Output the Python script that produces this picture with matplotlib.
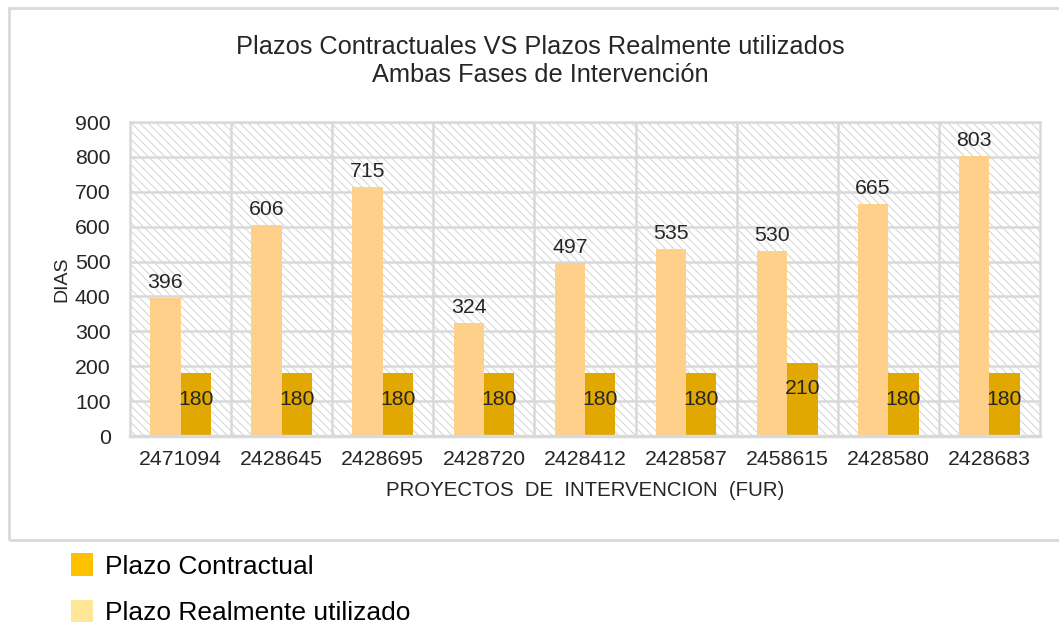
import matplotlib.pyplot as plt
from matplotlib.patches import Rectangle, Patch

plt.rcParams['font.family'] = ['Liberation Sans', 'DejaVu Sans']
plt.rcParams['hatch.linewidth'] = 0.7

# Datos
proyectos = ['2471094', '2428645', '2428695', '2428720', '2428412',
             '2428587', '2458615', '2428580', '2428683']
plazo_real = [396, 606, 715, 324, 497, 535, 530, 665, 803]
plazo_contractual = [180, 180, 180, 180, 180, 180, 210, 180, 180]
yticks = [0, 100, 200, 300, 400, 500, 600, 700, 800, 900]

COLOR_REAL = '#FFD08A'
COLOR_CONTR = '#E0A800'
GRID = '#D9D9D9'
TXT = '#262626'

fig = plt.figure(figsize=(10.59, 6.28), dpi=100)
ax = fig.add_axes([0.1228, 0.3057, 0.8592, 0.5])

# marco exterior
fig.patches.append(Rectangle((9 / 1059, 1 - 540 / 628), 1.1, (540 - 8) / 628,
                             transform=fig.transFigure, fill=False,
                             edgecolor=GRID, linewidth=2, zorder=0))

# fondo rayado
ax.add_patch(Rectangle((0, 0), 1, 1, transform=ax.transAxes, facecolor='white',
                       edgecolor='#D3D3D3', hatch='\\\\\\\\', linewidth=0, zorder=0.1))

x = list(range(len(proyectos)))
w = 0.3
xr = [i - w / 2 for i in x]
xc = [i + w / 2 for i in x]
ax.bar(xr, plazo_real, w, color=COLOR_REAL, zorder=2)
ax.bar(xc, plazo_contractual, w, color=COLOR_CONTR, zorder=2)

for xi, v in zip(xr, plazo_real):
    ax.text(xi, v + 17, str(v), ha='center', va='bottom', fontsize=15.3, color=TXT, zorder=3)
for xi, v in zip(xc, plazo_contractual):
    ax.text(xi, v - 75, str(v), ha='center', va='center', fontsize=15.3, color=TXT, zorder=3)

ax.set_xlim(-0.5, len(proyectos) - 0.5)
ax.set_ylim(0, 900)
ax.set_yticks(yticks)
ax.set_xticks(x)
ax.set_xticklabels(proyectos)
ax.set_xticks([i + 0.5 for i in x[:-1]], minor=True)
ax.tick_params(axis='both', which='both', length=0, labelsize=15.3, labelcolor=TXT)
ax.tick_params(axis='x', pad=10)
ax.tick_params(axis='y', pad=14)

ax.set_axisbelow(True)
ax.grid(axis='y', which='major', color=GRID, linewidth=1.8, zorder=0.5)
ax.grid(axis='x', which='minor', color=GRID, linewidth=1.8, zorder=0.5)
for s in ax.spines.values():
    s.set_color(GRID)
    s.set_linewidth(1.8)
ax.spines['bottom'].set_linewidth(2.5)

ax.set_xlabel('PROYECTOS  DE  INTERVENCION  (FUR)', fontsize=14.7, color=TXT, labelpad=9)
ax.set_ylabel('DIAS', fontsize=14, color=TXT, labelpad=3)

fig.text(0.51, 0.925, 'Plazos Contractuales VS Plazos Realmente utilizados',
         ha='center', va='center', fontsize=18.3, color=TXT)
fig.text(0.51, 0.881, 'Ambas Fases de Intervención',
         ha='center', va='center', fontsize=18.3, color=TXT)

handles = [Patch(facecolor='#FFC000', edgecolor='none', label='Plazo Contractual'),
           Patch(facecolor='#FFE699', edgecolor='none', label='Plazo Realmente utilizado')]
fig.legend(handles=handles, loc='upper left', bbox_to_anchor=(0.057, 0.136),
           frameon=False, fontsize=19, handlelength=0.85, handleheight=0.95,
           handletextpad=0.45, labelspacing=0.8, borderaxespad=0)

fig.savefig('out.png', dpi=100)
